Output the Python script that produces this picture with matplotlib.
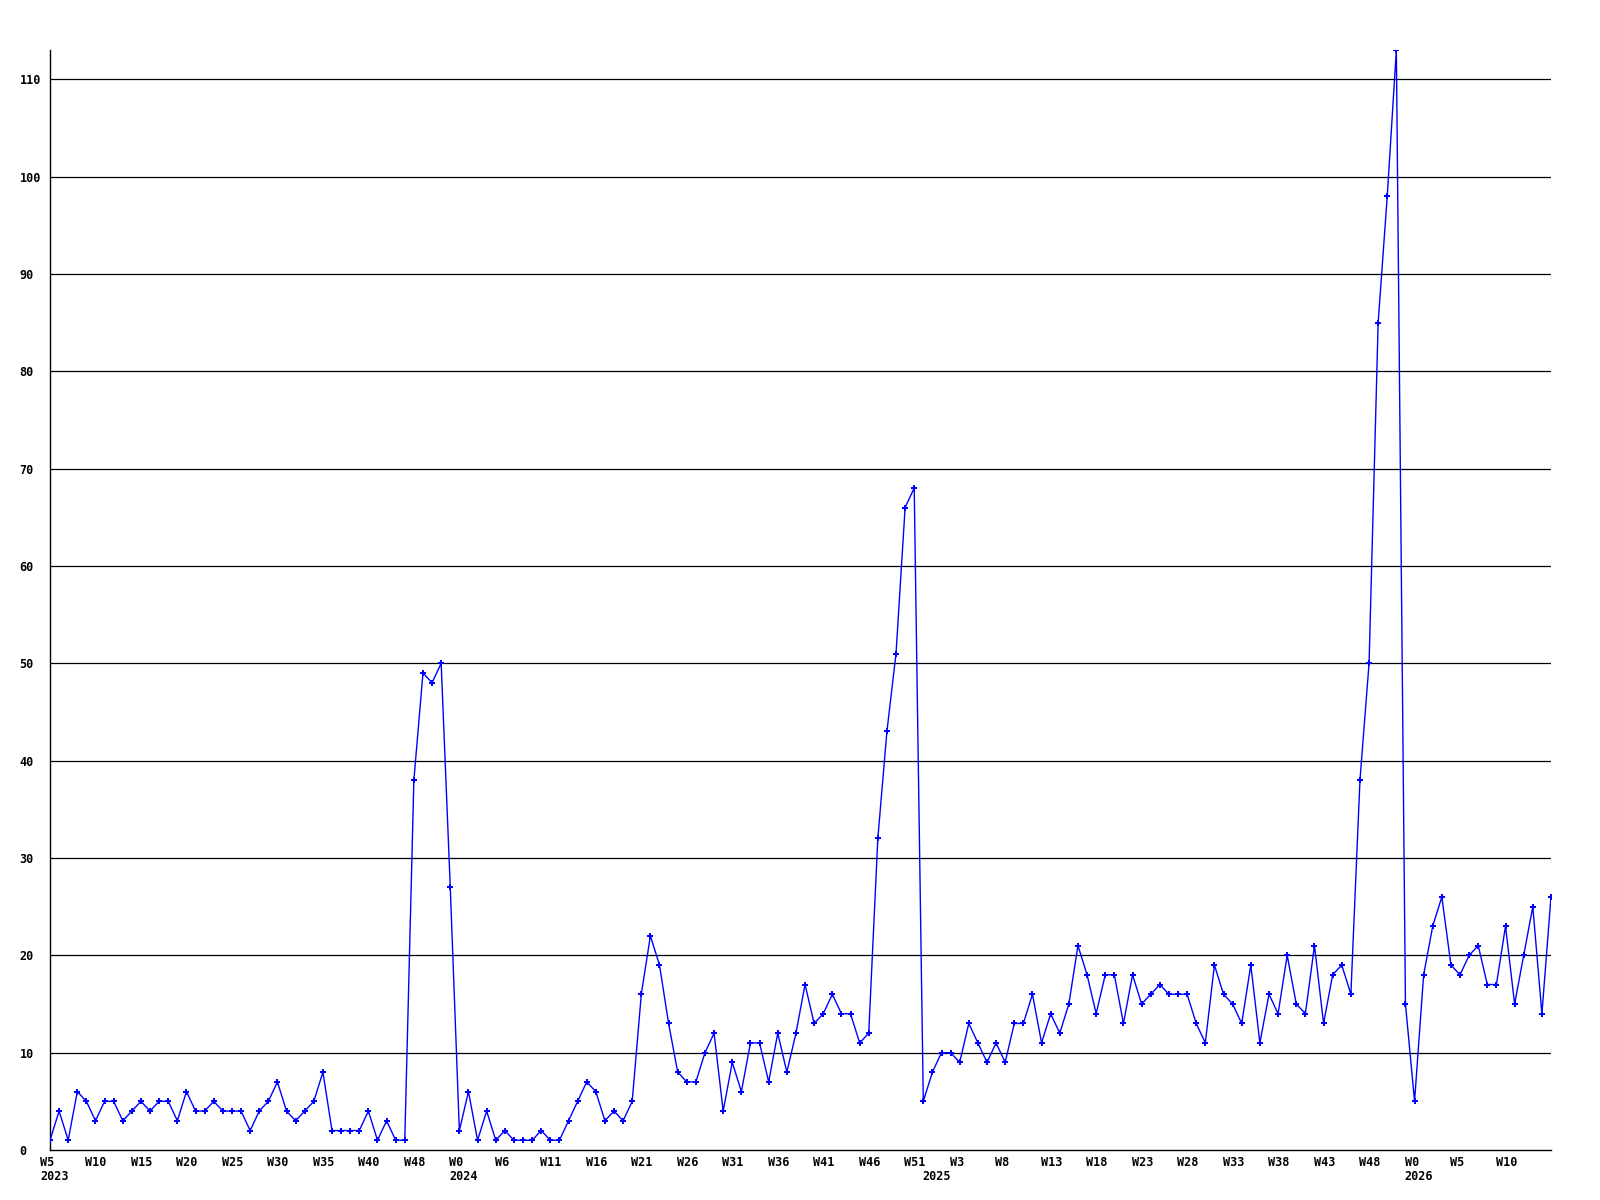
import matplotlib
matplotlib.use("Agg")
import matplotlib.pyplot as plt
from matplotlib.transforms import blended_transform_factory, offset_copy

values = [
    1, 4, 1, 6, 5, 3, 5, 5, 3, 4,
    5, 4, 5, 5, 3, 6, 4, 4, 5, 4,
    4, 4, 2, 4, 5, 7, 4, 3, 4, 5,
    8, 2, 2, 2, 2, 4, 1, 3, 1, 1,
    38, 49, 48, 50, 27, 2, 6, 1, 4, 1,
    2, 1, 1, 1, 2, 1, 1, 3, 5, 7,
    6, 3, 4, 3, 5, 16, 22, 19, 13, 8,
    7, 7, 10, 12, 4, 9, 6, 11, 11, 7,
    12, 8, 12, 17, 13, 14, 16, 14, 14, 11,
    12, 32, 43, 51, 66, 68, 5, 8, 10, 10,
    9, 13, 11, 9, 11, 9, 13, 13, 16, 11,
    14, 12, 15, 21, 18, 14, 18, 18, 13, 18,
    15, 16, 17, 16, 16, 16, 13, 11, 19, 16,
    15, 13, 19, 11, 16, 14, 20, 15, 14, 21,
    13, 18, 19, 16, 38, 50, 85, 98, 113, 15,
    5, 18, 23, 26, 19, 18, 20, 21, 17, 17,
    23, 15, 20, 25, 14, 26,
]

week_labels = ["W5", "W10", "W15", "W20", "W25", "W30", "W35", "W40", "W48",
               "W0", "W6", "W11", "W16", "W21", "W26", "W31", "W36", "W41",
               "W46", "W51", "W3", "W8", "W13", "W18", "W23", "W28", "W33",
               "W38", "W43", "W48", "W0", "W5", "W10"]
year_labels = ["2023", "2024", "2025", "2026"]
year_positions = [0, 45, 97, 150]
y_ticks = [0, 10, 20, 30, 40, 50, 60, 70, 80, 90, 100, 110]

fig = plt.figure(figsize=(16, 12), dpi=100)
ax = fig.add_axes([50 / 1600, 1 - 1150 / 1200, 1501 / 1600, 1100 / 1200])

x = list(range(len(values)))
ax.plot(x, values, color="#0000ff", linewidth=1.0, marker="P",
        markersize=5, markeredgewidth=0, zorder=3)

ax.set_xlim(0, len(values) - 1)
ax.set_ylim(0, max(values))

for v in y_ticks[1:]:
    ax.axhline(v, color="black", linewidth=0.9, zorder=1)

for side in ["top", "right"]:
    ax.spines[side].set_visible(False)
for side in ["left", "bottom"]:
    ax.spines[side].set_color("black")
    ax.spines[side].set_linewidth(1.0)

font = dict(family="DejaVu Sans Mono", weight="bold", size=8.5)

ax.set_yticks(y_ticks)
ax.set_yticklabels([str(v) for v in y_ticks], ha="left", **font)
ax.tick_params(axis="y", length=0, pad=22)

ax.set_xticks([])
trans = blended_transform_factory(ax.transData, ax.transAxes)
tick_trans = offset_copy(trans, fig=fig, x=-10, y=-12, units="dots")
for i, lab in enumerate(week_labels):
    ax.text(i * 5, 0, lab, transform=tick_trans, ha="left", va="center", **font)
year_trans = offset_copy(trans, fig=fig, x=-10, y=-27, units="dots")
for pos, lab in zip(year_positions, year_labels):
    ax.text(pos, 0, lab, transform=year_trans, ha="left", va="center", **font)

fig.savefig("out.png", dpi=100, facecolor="white")
